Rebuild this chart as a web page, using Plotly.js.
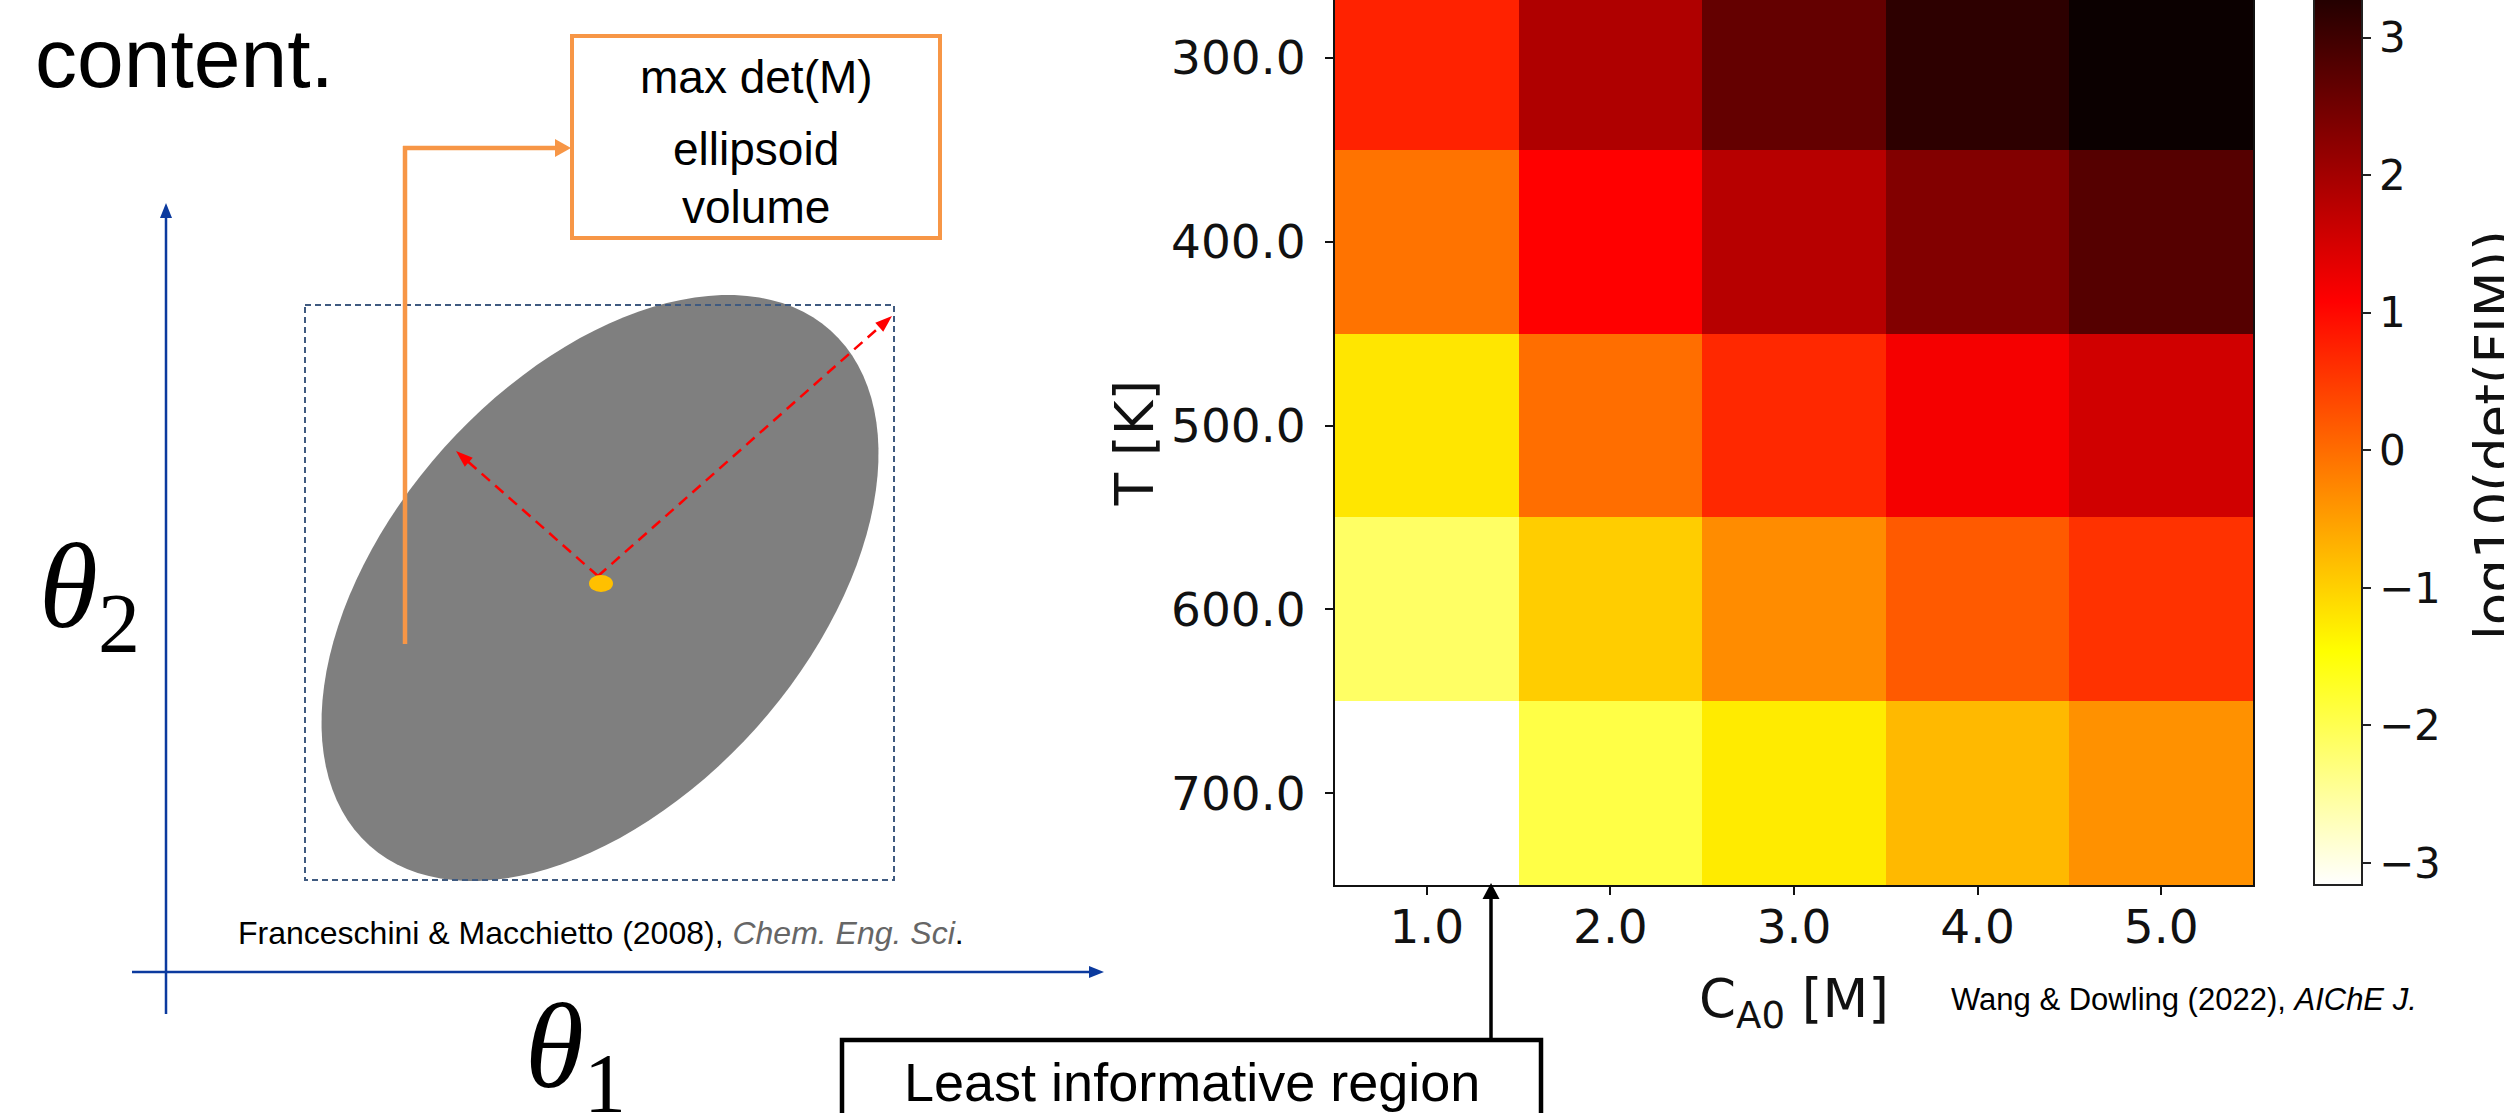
<!DOCTYPE html>
<html>
<head>
<meta charset="utf-8">
<script src="https://cdn.plot.ly/plotly-3.0.1.min.js"></script>
<style>html,body{margin:0;padding:0;background:#fff;overflow:hidden}#chart{width:2504px;height:1113px}</style>
</head>
<body>
<div id="chart"></div>
<script>
// ---- data ----
const CA0 = [1.0, 2.0, 3.0, 4.0, 5.0];
const CA0_labels = ['1.0', '2.0', '3.0', '4.0', '5.0'];
const T_K = [300, 400, 500, 600, 700];
const T_labels = ['300.0', '400.0', '500.0', '600.0', '700.0'];
const row300 = [0.74, 1.88, 2.63, 3.18, 3.52];
const row400 = [-0.07, 1.08, 1.80, 2.33, 2.78];
const row500 = [-1.21, -0.02, 0.68, 1.18, 1.55];
const row600 = [-2.13, -0.96, -0.32, 0.18, 0.58];
const row700 = [-3.16, -1.93, -1.26, -0.76, -0.37];
const cbTicks = [-3, -2, -1, 0, 1, 2, 3];

// ---- layout geometry (pixels) ----
const FW = 2504, FH = 1113;
const L = 1335, R = 2253, B = 885, T = 0;
const W = R - L, H = B - T;
const X = p => (p - L) / W;
const Y = p => (B - p) / H;

const hotR = [[0, 'rgb(255,255,255)'], [0.253968, 'rgb(255,255,0)'], [0.634921, 'rgb(255,0,0)'], [1, 'rgb(11,0,0)']];

const heat = {
  type: 'heatmap', x: CA0, y: T_K, z: [row300, row400, row500, row600, row700],
  colorscale: hotR, zmin: -3.16, zmax: 3.52, hoverinfo: 'skip',
  colorbar: {
    x: X(2314), xanchor: 'left', xpad: 0, thickness: 48,
    y: 0, yanchor: 'bottom', ypad: 0, len: 919, lenmode: 'pixels',
    outlinewidth: 2, outlinecolor: '#222',
    ticks: 'outside', ticklen: 8, tickwidth: 2, tickcolor: '#222',
    tickvals: cbTicks, tickfont: {family: 'DejaVu Sans', size: 42, color: '#111'}
  }
};

// ellipse outline (decorative drawing)
const ec = [600, 588], ea = 345.6, eb = 209.7, ephi = 48.15 * Math.PI / 180;
let ep = '';
for (let i = 0; i <= 120; i++) {
  const t = 2 * Math.PI * i / 120;
  const px = ec[0] + ea * Math.cos(t) * Math.cos(ephi) + eb * Math.sin(t) * Math.sin(ephi);
  const py = ec[1] - ea * Math.cos(t) * Math.sin(ephi) + eb * Math.sin(t) * Math.cos(ephi);
  ep += (i === 0 ? 'M' : 'L') + X(px).toFixed(5) + ',' + Y(py).toFixed(5);
}
ep += 'Z';

const red = '#ff0000', orange = '#F79646', blue = '#0b3a9e';
const start = [598, 576], tipA = [892, 316], tipB = [456, 451];

function back(tip, from, d) {
  const dx = from[0] - tip[0], dy = from[1] - tip[1], n = Math.hypot(dx, dy);
  return [tip[0] + dx / n * d, tip[1] + dy / n * d];
}
function head(tip, from, len, hw, color) {
  const dx = from[0] - tip[0], dy = from[1] - tip[1], n = Math.hypot(dx, dy);
  const ux = dx / n, uy = dy / n;
  const bx = tip[0] + ux * len, by = tip[1] + uy * len;
  const p1 = [bx - uy * hw, by + ux * hw], p2 = [bx + uy * hw, by - ux * hw];
  return {type: 'path', xref: 'paper', yref: 'paper', fillcolor: color, line: {width: 0},
    path: 'M' + X(tip[0]) + ',' + Y(tip[1]) + 'L' + X(p1[0]) + ',' + Y(p1[1]) + 'L' + X(p2[0]) + ',' + Y(p2[1]) + 'Z'};
}
function txt(text, x, y, size, opts) {
  return Object.assign({x: X(x), y: Y(y), xref: 'paper', yref: 'paper', text: text, showarrow: false,
    xanchor: 'center', yanchor: 'middle', font: {family: 'Liberation Sans, Arial', size: size, color: '#000'}}, opts || {});
}
function line(p0, p1, color, width, dash) {
  return {type: 'line', xref: 'paper', yref: 'paper', x0: X(p0[0]), y0: Y(p0[1]), x1: X(p1[0]), y1: Y(p1[1]),
    line: {color: color, width: width, dash: dash || 'solid'}};
}

const shapes = [
  {type: 'path', xref: 'paper', yref: 'paper', path: ep, fillcolor: '#7f7f7f', line: {width: 0}},
  {type: 'rect', xref: 'paper', yref: 'paper', x0: X(305), y0: Y(305), x1: X(894), y1: Y(880),
    line: {color: '#3f5a80', width: 2, dash: '6px,4px'}},
  // blue theta axes
  line([166, 1014], [166, 212], blue, 2.5), head([166, 203], [166, 1014], 15, 6, blue),
  line([132, 972], [1095, 972], blue, 2.5), head([1104, 972], [132, 972], 15, 6, blue),
  // orange connector
  line([405, 644], [405, 146], orange, 4.5), line([403, 148], [558, 148], orange, 4.5),
  head([571, 148], [403, 148], 16, 9, orange),
  // red principal axes
  line(start, back(tipA, start, 12), red, 2.5, '11px,7px'), head(tipA, start, 17, 6, red),
  line(start, back(tipB, start, 12), red, 2.5, '11px,7px'), head(tipB, start, 17, 6, red),
  {type: 'circle', xref: 'paper', yref: 'paper', x0: X(589), y0: Y(575), x1: X(613), y1: Y(592),
    fillcolor: '#FFC000', line: {width: 0}},
  {type: 'rect', xref: 'paper', yref: 'paper', x0: X(572), y0: Y(36), x1: X(940), y1: Y(238),
    fillcolor: '#ffffff', line: {color: orange, width: 4}},
  // least-informative pointer
  {type: 'rect', xref: 'paper', yref: 'paper', x0: X(842), y0: Y(1040), x1: X(1541), y1: Y(1160),
    fillcolor: 'rgba(0,0,0,0)', line: {color: '#000', width: 4.5}},
  line([1491, 1040], [1491, 898], '#000', 3.5), head([1491, 883], [1491, 1040], 16, 8.5, '#000')
];

const annotations = [
  txt('content.', 33, 58, 84, {xanchor: 'left'}),
  txt('max det(M)', 756, 77, 46),
  txt('ellipsoid', 756, 149, 46),
  txt('volume', 756, 207, 46),
  txt('<i>θ</i><sub>2</sub>', 89, 595, 120, {font: {family: 'Liberation Serif, DejaVu Serif', size: 120, color: '#000'}}),
  txt('<i>θ</i><sub>1</sub>', 575, 1055, 120, {font: {family: 'Liberation Serif, DejaVu Serif', size: 120, color: '#000'}}),
  txt('Franceschini &amp; Macchietto (2008), <i><span style="color:#666666">Chem. Eng. Sci</span></i>.', 236, 933, 32, {xanchor: 'left'}),
  txt('Wang &amp; Dowling (2022), <i>AIChE J.</i>', 1949, 999, 31, {xanchor: 'left'}),
  txt('Least informative region', 1192, 1082, 54),
  txt('log10(det(FIM))', 2494, 435, 53, {textangle: -90, font: {family: 'DejaVu Sans', size: 53, color: '#111'}})
];

const layout = {
  width: FW, height: FH,
  margin: {l: L, r: FW - R, t: T, b: FH - B, pad: 0, autoexpand: false},
  paper_bgcolor: '#ffffff', plot_bgcolor: '#ffffff', showlegend: false,
  xaxis: {
    range: [0.5, 5.5], tickvals: CA0, ticktext: CA0_labels, ticks: 'outside', ticklen: 8, tickwidth: 2, tickcolor: '#111',
    showline: true, linecolor: '#111', linewidth: 2, mirror: false, showgrid: false, zeroline: false,
    tickfont: {family: 'DejaVu Sans', size: 47, color: '#111'}, ticklabelstandoff: -8,
    title: {text: 'C<sub>A0</sub> [M]', font: {family: 'DejaVu Sans', size: 53, color: '#111'}, standoff: 26}
  },
  yaxis: {
    range: [750, 268.5], tickvals: T_K, ticktext: T_labels, ticks: 'outside', ticklen: 8, tickwidth: 2, tickcolor: '#111',
    showline: true, linecolor: '#111', linewidth: 2, mirror: true, showgrid: false, zeroline: false,
    tickfont: {family: 'DejaVu Sans', size: 47, color: '#111'}, ticklabelstandoff: 10,
    title: {text: 'T [K]', font: {family: 'DejaVu Sans', size: 53, color: '#111'}, standoff: 0}
  },
  shapes: shapes,
  annotations: annotations
};

Plotly.newPlot('chart', [heat], layout, {staticPlot: true, displayModeBar: false});
</script>
</body>
</html>
